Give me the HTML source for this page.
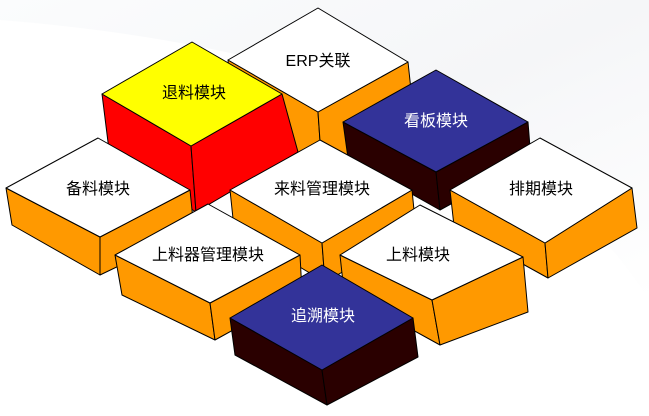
<!DOCTYPE html>
<html><head><meta charset="utf-8"><style>
html,body{margin:0;padding:0;background:#fff;}
svg{display:block}
text{font-family:"Liberation Sans","Noto Sans CJK SC",sans-serif;font-size:16px;text-anchor:middle;dominant-baseline:middle}
</style></head><body>
<svg width="649" height="416" viewBox="0 0 649 416" xmlns="http://www.w3.org/2000/svg">
<defs>
<linearGradient id="bg" x1="0" y1="0" x2="1" y2="1">
<stop offset="0" stop-color="#fbfcfd"/><stop offset="0.5" stop-color="#f5f6f8"/><stop offset="1" stop-color="#ffffff"/>
</linearGradient>
</defs>
<rect width="649" height="416" fill="#fff"/>
<path d="M0 0H649V300Q500 60 0 20Z" fill="url(#bg)"/>
<g stroke="#000" stroke-width="1" stroke-linejoin="round">
<polygon points="228,60 318,112 322,170 234,118" fill="#ff9900"/>
<polygon points="318,112 408,62 414,118 322,170" fill="#ff9900"/>
<polygon points="318,8 408,62 318,112 228,60" fill="#fff"/>
<polygon points="102,94 191,146 196,212 110,158" fill="#ff0000"/>
<polygon points="191,146 282,94 298,152 196,212" fill="#ff0000"/>
<polygon points="192,42 282,94 191,146 102,94" fill="#ffff00"/>
<polygon points="343,122 436,172 440,210 348,158" fill="#2a0000"/>
<polygon points="436,172 528,122 531,160 440,210" fill="#2a0000"/>
<polygon points="436,70 528,122 436,172 343,122" fill="#333399"/>
<polygon points="6,188 100,237 100,275 12,225" fill="#ff9900"/>
<polygon points="100,237 190,190 194,230 100,275" fill="#ff9900"/>
<polygon points="98,138 190,190 100,237 6,188" fill="#fff"/>
<polygon points="230,190 322,243 325,282 234,228" fill="#ff9900"/>
<polygon points="322,243 412,190 416,230 325,282" fill="#ff9900"/>
<polygon points="320,140 412,190 322,243 230,190" fill="#fff"/>
<polygon points="450,190 545,243 548,278 454,226" fill="#ff9900"/>
<polygon points="545,243 632,188 637,228 548,278" fill="#ff9900"/>
<polygon points="540,138 632,188 545,243 450,190" fill="#fff"/>
<polygon points="115,255 210,303 215,340 122,295" fill="#ff9900"/>
<polygon points="210,303 300,255 302,292 215,340" fill="#ff9900"/>
<polygon points="208,204 300,255 210,303 115,255" fill="#fff"/>
<polygon points="340,255 432,300 440,345 344,292" fill="#ff9900"/>
<polygon points="432,300 523,257 528,312 440,345" fill="#ff9900"/>
<polygon points="420,205 523,257 432,300 340,255" fill="#fff"/>
<polygon points="230,318 322,370 327,405 235,355" fill="#2a0000"/>
<polygon points="322,370 413,318 418,357 327,405" fill="#2a0000"/>
<polygon points="322,265 413,318 322,370 230,318" fill="#333399"/>
</g>
<text x="318" y="62">ERP关联</text>
<text x="194" y="94">退料模块</text>
<text x="436" y="122" fill="#fff">看板模块</text>
<text x="98" y="190">备料模块</text>
<text x="322" y="190">来料管理模块</text>
<text x="541" y="190">排期模块</text>
<text x="208" y="256">上料器管理模块</text>
<text x="418" y="256">上料模块</text>
<text x="323" y="317" fill="#fff">追溯模块</text>
</svg>
</body></html>
